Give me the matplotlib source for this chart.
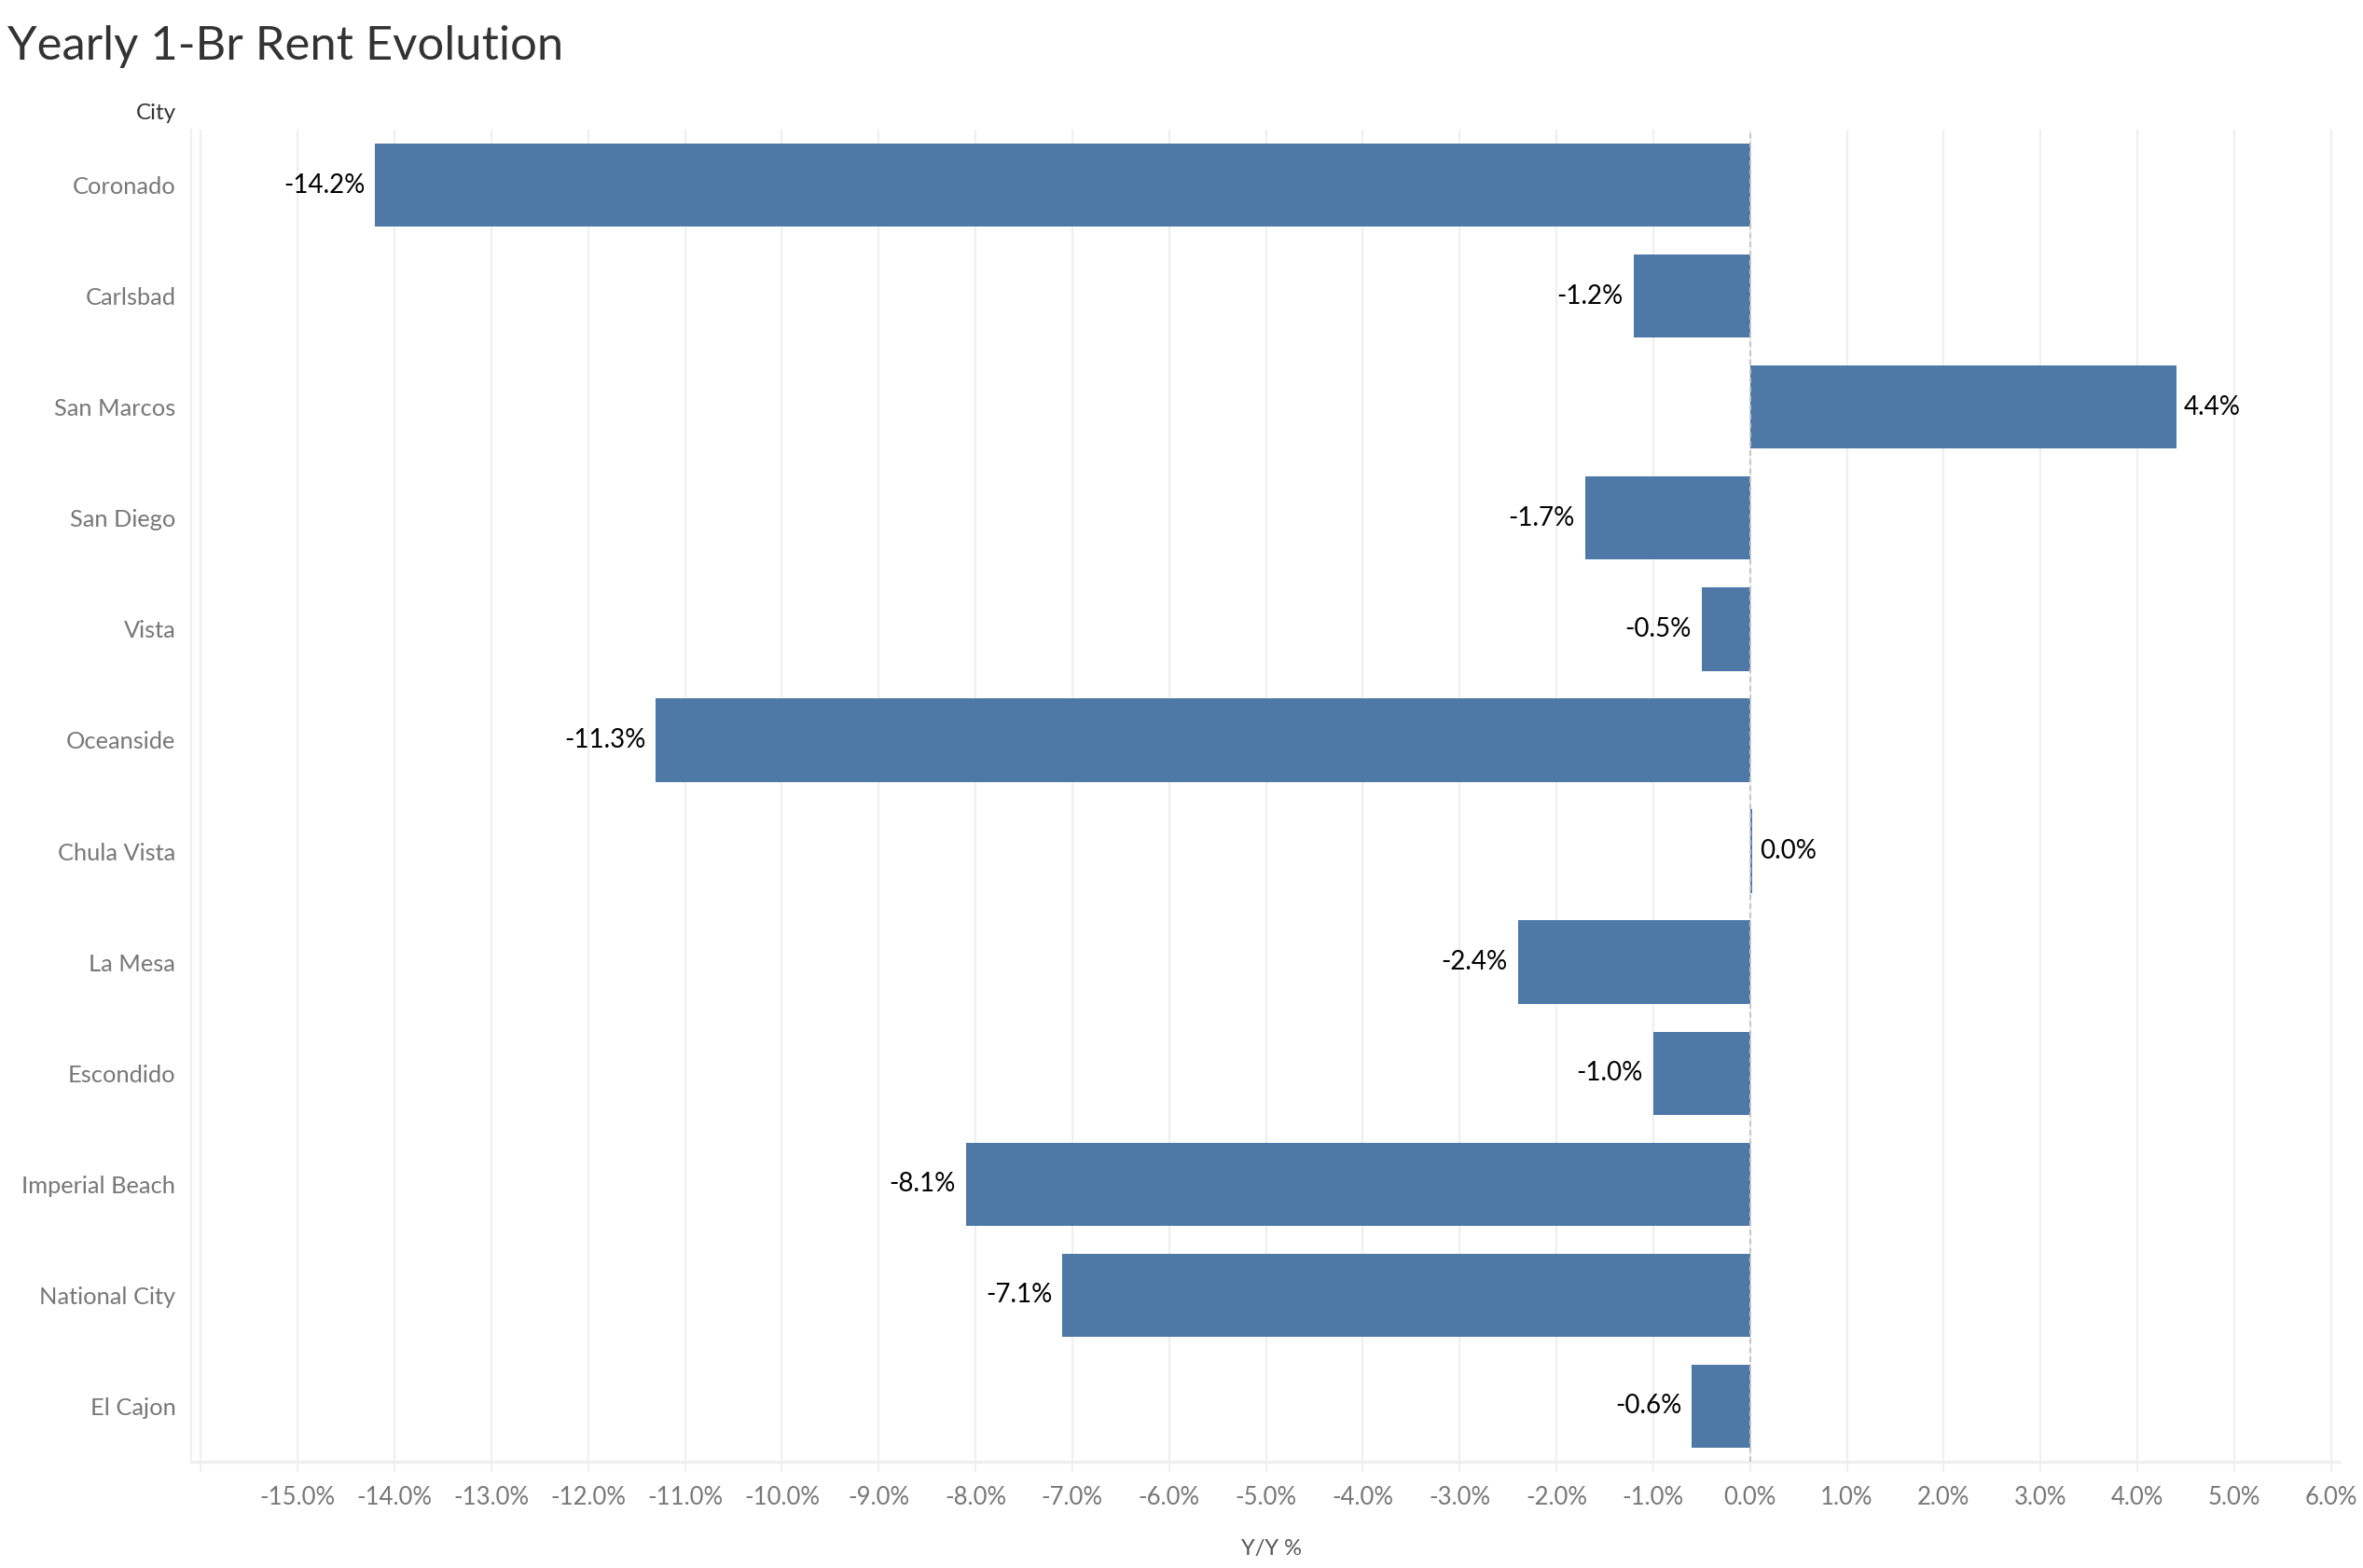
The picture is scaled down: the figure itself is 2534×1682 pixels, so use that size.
import matplotlib
matplotlib.use("Agg")
import matplotlib.pyplot as plt
import numpy as np

plt.rcParams['font.family'] = ['Lato', 'DejaVu Sans']

cities = ["Coronado", "Carlsbad", "San Marcos", "San Diego", "Vista", "Oceanside",
          "Chula Vista", "La Mesa", "Escondido", "Imperial Beach", "National City", "El Cajon"]
yoy = [-14.2, -1.2, 4.4, -1.7, -0.5, -11.3, 0.02, -2.4, -1.0, -8.1, -7.1, -0.6]
xticks = list(range(-16, 7))

W, H = 2534, 1682
fig = plt.figure(figsize=(W / 100, H / 100), dpi=100)
ax = fig.add_axes([205 / W, 1 - 1568 / H, (2508 - 205) / W, (1568 - 139) / H])

ypos = np.arange(len(cities))
ax.barh(ypos, yoy, height=0.75, color="#4E79A7", zorder=3)
ax.set_ylim(len(cities) - 0.5, -0.5)
ax.set_xlim(-16.1, 6.08)

ax.set_xticks(xticks)
ax.set_xticklabels(["" if t == -16 else f"{t:.1f}%" for t in xticks])
ax.set_yticks(ypos)
ax.set_yticklabels(cities)

ax.grid(axis="x", color="#efefef", linewidth=1.6, zorder=0)
ax.axvline(0, color="#c4c4c4", linestyle=(0, (3, 2)), linewidth=1.4, zorder=4)

for s in ["top", "right"]:
    ax.spines[s].set_visible(False)
ax.spines["left"].set_color("#efefef")
ax.spines["left"].set_linewidth(1.6)
ax.spines["bottom"].set_color("#efefef")
ax.spines["bottom"].set_linewidth(2.5)

ax.tick_params(axis="x", length=8, width=1.4, color="#efefef", labelsize=18.5,
               labelcolor="#777777", pad=11)
ax.tick_params(axis="y", length=0, labelsize=18.3, labelcolor="#777777", pad=12)

for y, v in zip(ypos, yoy):
    if v < 0:
        ax.annotate(f"{v:.1f}%", (v, y), xytext=(-8, 0), textcoords="offset points",
                    ha="right", va="center", fontsize=20, color="black")
    else:
        ax.annotate(f"{v:.1f}%", (v, y), xytext=(6, 0), textcoords="offset points",
                    ha="left", va="center", fontsize=20, color="black")

ax.set_xlabel("Y/Y %", fontsize=17, color="#555555", labelpad=16)
ax.xaxis.set_label_coords(0.503, -0.058)

fig.text(8 / W, 1 - 50 / H, "Yearly 1-Br Rent Evolution", fontsize=36.5, color="#333333",
         ha="left", va="center")
fig.text(189 / W, 1 - 122 / H, "City", fontsize=17.5, color="#333333", ha="right", va="center")

fig.savefig("out.png", dpi=100, facecolor="white")
